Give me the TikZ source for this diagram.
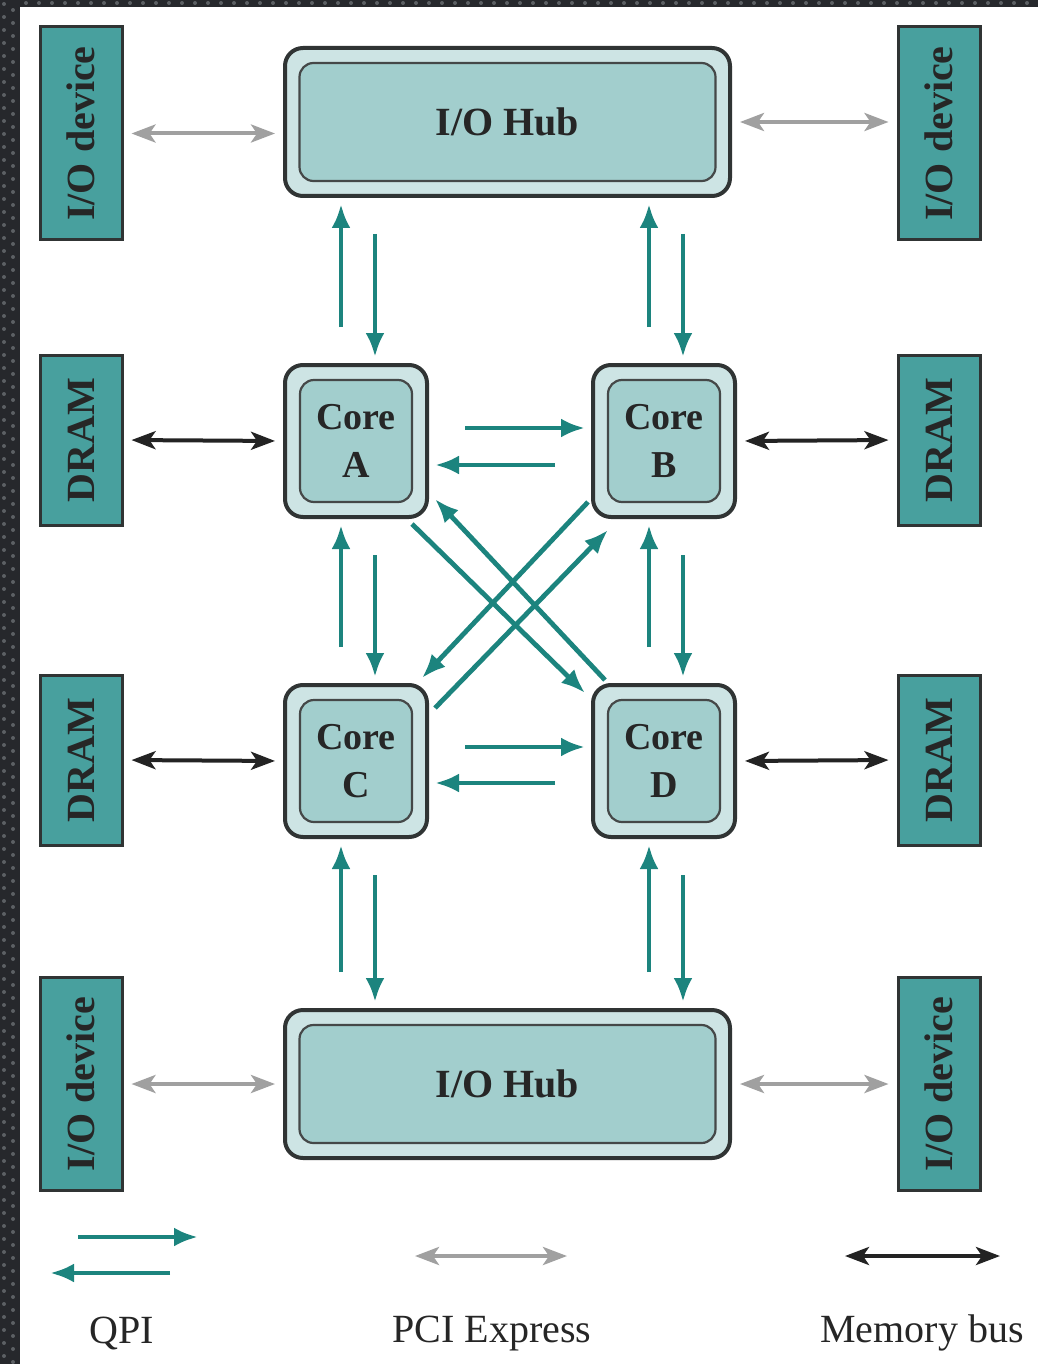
\documentclass[tikz,border=0pt]{standalone}
\usepackage{fontspec}
\setmainfont{Liberation Serif}
\usepackage{tikz}
\usetikzlibrary{arrows.meta}

\definecolor{devteal}{RGB}{72,160,158}
\definecolor{hubout}{RGB}{205,228,228}
\definecolor{hubin}{RGB}{162,206,205}
\definecolor{qpiteal}{RGB}{28,132,126}
\definecolor{pcigray}{RGB}{160,160,160}
\definecolor{membus}{RGB}{35,35,35}
\definecolor{edgegray}{RGB}{48,52,52}
\definecolor{framedark}{RGB}{38,40,44}
\definecolor{framedot}{RGB}{92,96,100}

\begin{document}
\begin{tikzpicture}[x=0.5pt, y=-0.5pt]

\tikzstyle{devbox}=[rectangle,draw=edgegray,line width=1.5pt,fill=devteal,minimum width=41pt,inner sep=0pt,font=\fontsize{20}{24}\selectfont\bfseries,text=black!85]
\tikzstyle{hubout}=[rectangle,draw=edgegray,line width=2pt,rounded corners=9pt,fill=hubout,minimum width=222.5pt,minimum height=74pt]
\tikzstyle{hubin}=[rectangle,draw=edgegray!90,line width=1.1pt,rounded corners=7pt,fill=hubin,minimum width=208pt,minimum height=59pt,font=\fontsize{20}{24}\selectfont\bfseries,text=black!85]
\tikzstyle{coreout}=[rectangle,draw=edgegray,line width=2pt,rounded corners=9pt,fill=hubout,minimum width=71pt,minimum height=76pt]
\tikzstyle{corein}=[rectangle,draw=edgegray!90,line width=1.1pt,rounded corners=7pt,fill=hubin,minimum width=56pt,minimum height=61pt,align=center,font=\fontsize{19}{24}\selectfont\bfseries,text=black!85]
\tikzstyle{qpi}=[draw=qpiteal,line width=2.4pt,-{Latex[length=12pt,width=9.5pt]},shorten <=18pt,shorten >=3pt]
\tikzstyle{pci}=[draw=pcigray,line width=2pt,{Stealth[length=12pt,width=9pt,inset=3pt]}-{Stealth[length=12pt,width=9pt,inset=3pt]},shorten <=4pt,shorten >=4pt]
\tikzstyle{mem}=[draw=membus,line width=2pt,{Stealth[length=12pt,width=9pt,inset=3pt]}-{Stealth[length=12pt,width=9pt,inset=3pt]},shorten <=4pt,shorten >=4pt]
\tikzstyle{legend}=[font=\fontsize{20}{24}\selectfont,text=black!85]

% frame
\fill[framedark] (0,0) rectangle (1038,1364);
\fill[white] (20,7) rectangle (1038,1364);
\foreach \y in {4,17,...,1364} {
  \fill[framedot] (4,\y) circle (1pt);
  \fill[framedot] (13,\y+6) circle (1pt);
}
\foreach \x in {26,39,...,1038} \fill[framedot] (\x,3) circle (1pt);

% devices and memory
\node (devTL) [devbox,minimum height=106.5pt] at (81,133.5) {\rotatebox{90}{I/O device}};
\node (devTR) [devbox,minimum height=106.5pt] at (939,133.5) {\rotatebox{90}{I/O device}};
\node (dramA) [devbox,minimum height=85pt] at (81,440) {\rotatebox{90}{DRAM}};
\node (dramB) [devbox,minimum height=85pt] at (939,440) {\rotatebox{90}{DRAM}};
\node (dramC) [devbox,minimum height=85pt] at (81,760) {\rotatebox{90}{DRAM}};
\node (dramD) [devbox,minimum height=85pt] at (939,760) {\rotatebox{90}{DRAM}};
\node (devBL) [devbox,minimum height=106.5pt] at (81,1084) {\rotatebox{90}{I/O device}};
\node (devBR) [devbox,minimum height=106.5pt] at (939,1084) {\rotatebox{90}{I/O device}};

% hubs
\node (hubT) [hubout] at (507.5,122) {};
\node (hubTin) [hubin] at (hubT) {I/O Hub};
\node (hubB) [hubout] at (507.5,1084) {};
\node (hubBin) [hubin] at (hubB) {I/O Hub};

% cores
\node (coreA) [coreout] at (356,441) {};
\node (coreAin) [corein] at (coreA) {Core\\A};
\node (coreB) [coreout] at (664,441) {};
\node (coreBin) [corein] at (coreB) {Core\\B};
\node (coreC) [coreout] at (356,761) {};
\node (coreCin) [corein] at (coreC) {Core\\C};
\node (coreD) [coreout] at (664,761) {};
\node (coreDin) [corein] at (coreD) {Core\\D};

% PCI Express
\draw[pci] (devTL.east) -- (devTL.east -| hubT.west);
\draw[pci] (hubT.east) -- (hubT.east -| devTR.west);
\draw[pci] (devBL.east) -- (devBL.east -| hubB.west);
\draw[pci] (hubB.east) -- (hubB.east -| devBR.west);

% memory bus
\draw[mem] (dramA.east) -- (coreA.west);
\draw[mem] (coreB.east) -- (dramB.west);
\draw[mem] (dramC.east) -- (coreC.west);
\draw[mem] (coreD.east) -- (dramD.west);

% QPI, vertical
\foreach \c/\u in {coreA/hubT,coreB/hubT,coreC/coreA,coreD/coreB} {
  \draw[qpi] ([xshift=-7.5pt]\c.north) -- ([xshift=-7.5pt]\c.north |- \u.south);
  \draw[qpi] ([xshift=9.5pt]\c.north |- \u.south) -- ([xshift=9.5pt]\c.north);
}
\foreach \c in {coreC,coreD} {
  \draw[qpi] ([xshift=-7.5pt]\c.south |- hubB.north) -- ([xshift=-7.5pt]\c.south);
  \draw[qpi] ([xshift=9.5pt]\c.south) -- ([xshift=9.5pt]\c.south |- hubB.north);
}

% QPI, horizontal
\draw[qpi] ([yshift=6.5pt]coreA.east) -- ([yshift=6.5pt]coreB.west);
\draw[qpi] ([yshift=-12pt]coreB.west) -- ([yshift=-12pt]coreA.east);
\draw[qpi] ([yshift=7pt]coreC.east) -- ([yshift=7pt]coreD.west);
\draw[qpi] ([yshift=-11pt]coreD.west) -- ([yshift=-11pt]coreC.east);

% QPI, diagonal
\draw[qpi,shorten <=0pt,shorten >=0pt] ([xshift=-8.5pt,yshift=-2.5pt]coreA.south east) -- ([xshift=-3pt,yshift=-5pt]coreD.north west);
\draw[qpi,shorten <=0pt,shorten >=0pt] ([xshift=7pt,yshift=1.5pt]coreD.north west) -- ([xshift=3pt,yshift=10pt]coreA.south east);
\draw[qpi,shorten <=0pt,shorten >=0pt] ([xshift=-1.5pt,yshift=8.5pt]coreB.south west) -- ([xshift=-3.5pt,yshift=2.5pt]coreC.north east);
\draw[qpi,shorten <=0pt,shorten >=0pt] ([xshift=3pt,yshift=-12.5pt]coreC.north east) -- ([xshift=8.5pt,yshift=-5.5pt]coreB.south west);

% legend
\node (lgqpi) [legend] at (122,1333) {QPI};
\node (lgpci) [legend] at (492,1333) {PCI Express};
\node (lgmem) [legend] at (922,1333) {Memory bus};
\coordinate (q1) at (78,1237);
\coordinate (q2) at (198,1237);
\coordinate (q3) at (170,1273);
\coordinate (q4) at (50,1273);
\coordinate (p1) at (415,1256);
\coordinate (p2) at (567,1256);
\coordinate (m1) at (845,1256);
\coordinate (m2) at (1000,1256);
\draw[qpi,shorten <=0pt,shorten >=0pt] (q1) -- (q2);
\draw[qpi,shorten <=0pt,shorten >=0pt] (q3) -- (q4);
\draw[pci,shorten <=0pt,shorten >=0pt] (p1) -- (p2);
\draw[mem,shorten <=0pt,shorten >=0pt] (m1) -- (m2);

\end{tikzpicture}
\end{document}
